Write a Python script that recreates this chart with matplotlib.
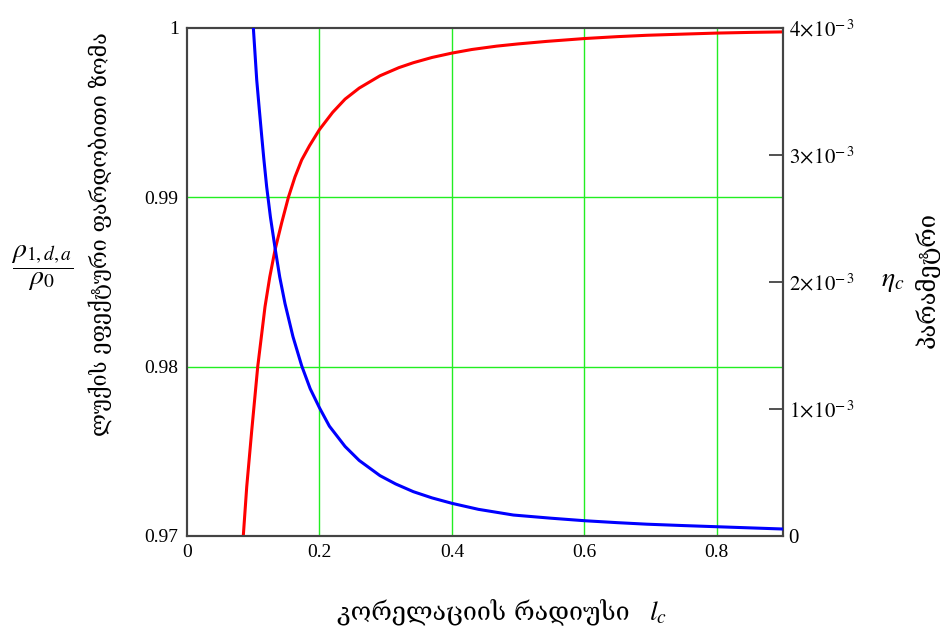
import matplotlib
matplotlib.use("Agg")
import matplotlib.pyplot as plt

plt.rcParams['mathtext.fontset'] = 'stix'

# Red curve (left axis): relative effective hatch size
red_x = [0.085, 0.0902, 0.0977, 0.1068, 0.1178, 0.125, 0.1329, 0.143, 0.1531, 0.163,
         0.1732, 0.185, 0.200, 0.22, 0.2387, 0.26, 0.2915, 0.32, 0.3418, 0.37, 0.4003,
         0.43, 0.4678, 0.50, 0.5433, 0.6012, 0.65, 0.6944, 0.75, 0.800, 0.85, 0.900]
red_y = [0.9700, 0.97291, 0.97620, 0.9800, 0.98354, 0.98530, 0.98689, 0.98850, 0.9900, 0.99120,
         0.99221, 0.99305, 0.99400, 0.99502, 0.99580, 0.99645, 0.99718, 0.99766, 0.99795, 0.99826,
         0.99852, 0.99873, 0.99893, 0.99906, 0.99921, 0.99938, 0.99949, 0.99957, 0.99964, 0.99970,
         0.99974, 0.99977]

# Blue curve (right axis): parameter eta_c
blue_x = [0.1002, 0.1053, 0.109, 0.1128, 0.116, 0.1203, 0.126, 0.1329, 0.14, 0.148, 0.16,
          0.1732, 0.186, 0.200, 0.215, 0.2387, 0.26, 0.2915, 0.315, 0.3418, 0.37, 0.4003,
          0.44, 0.493, 0.55, 0.6012, 0.65, 0.6944, 0.75, 0.800, 0.85, 0.900]
blue_y = [4.0e-3, 3.59e-3, 3.37e-3, 3.15e-3, 2.97e-3, 2.75e-3, 2.51e-3, 2.27e-3, 2.04e-3, 1.83e-3,
          1.57e-3, 1.34e-3, 1.16e-3, 1.01e-3, 0.865e-3, 0.705e-3, 0.595e-3, 0.475e-3, 0.41e-3,
          0.349e-3, 0.30e-3, 0.257e-3, 0.21e-3, 0.165e-3, 0.14e-3, 0.12e-3, 0.105e-3, 0.093e-3,
          0.082e-3, 0.073e-3, 0.064e-3, 0.055e-3]

x_ticks = [0, 0.2, 0.4, 0.6, 0.8]
x_tick_labels = ["0", "0.2", "0.4", "0.6", "0.8"]
left_ticks = [0.97, 0.98, 0.99, 1.0]
left_tick_labels = ["0.97", "0.98", "0.99", "1"]
right_ticks = [0, 1e-3, 2e-3, 3e-3, 4e-3]
right_tick_labels = ["0", r"$1\!\times\!10^{-\,3}$", r"$2\!\times\!10^{-\,3}$",
                     r"$3\!\times\!10^{-\,3}$", r"$4\!\times\!10^{-\,3}$"]

xlabel_text = "კორელაციის რადიუსი"
ylabel_text = "ლუქის ეფექტური ფარდობითი ზომა"
rlabel_text = "პარამეტრი"

serif = ['Liberation Serif', 'DejaVu Serif']
geo = ['DejaVu Serif', 'DejaVu Sans']

fig = plt.figure(figsize=(9.4, 6.31), dpi=100)
ax = fig.add_axes([187/940, 95/631, 596/940, 508/631])
ax2 = ax.twinx()

ax.set_xlim(0, 0.9)
ax.set_ylim(0.97, 1.0)
ax2.set_ylim(0, 4e-3)

grid_c = '#22ee22'
for xv in x_ticks[1:]:
    ax.axvline(xv, color=grid_c, lw=1.0, zorder=1)
for yv in [0.98, 0.99]:
    ax.axhline(yv, color=grid_c, lw=1.0, zorder=1)

ax.plot(red_x, red_y, color='#ff0000', lw=2.2, zorder=3, solid_joinstyle='round')
ax2.plot(blue_x, blue_y, color='#0000ff', lw=2.2, zorder=3, solid_joinstyle='round')

ax.set_xticks(x_ticks)
ax.set_xticklabels(x_tick_labels, fontfamily=serif, fontsize=14)
ax.set_yticks(left_ticks)
ax.set_yticklabels(left_tick_labels, fontfamily=serif, fontsize=14)
ax.tick_params(axis='both', length=0, pad=6)

ax2.set_yticks(right_ticks)
ax2.set_yticklabels(right_tick_labels, fontsize=15, fontfamily=serif)
ax2.tick_params(axis='y', direction='in', length=10, width=1.2, color='#333333', pad=4)

for a in (ax, ax2):
    for s in a.spines.values():
        s.set_color('#444444')
        s.set_linewidth(1.5)

# axis labels
fig.text(483/940, 1 - 612/631, xlabel_text, family=geo, fontsize=18,
         ha='center', va='center')
fig.text(658/940, 1 - 612/631, r"$l_c$", fontsize=20, ha='center', va='center')

fig.text(100/940, 1 - 234/631, ylabel_text, family=geo, fontsize=15.5,
         ha='center', va='center', rotation=90)
fig.text(42/940, 1 - 268/631, r"$\dfrac{\rho_{1,d,a}}{\rho_0}$", fontsize=20,
         ha='center', va='center')

fig.text(893/940, 1 - 280/631, r"$\eta_c$", fontsize=20, ha='center', va='center')
fig.text(927/940, 1 - 280/631, rlabel_text, family=geo, fontsize=17,
         ha='center', va='center', rotation=90)

fig.savefig("out.png", dpi=100)
